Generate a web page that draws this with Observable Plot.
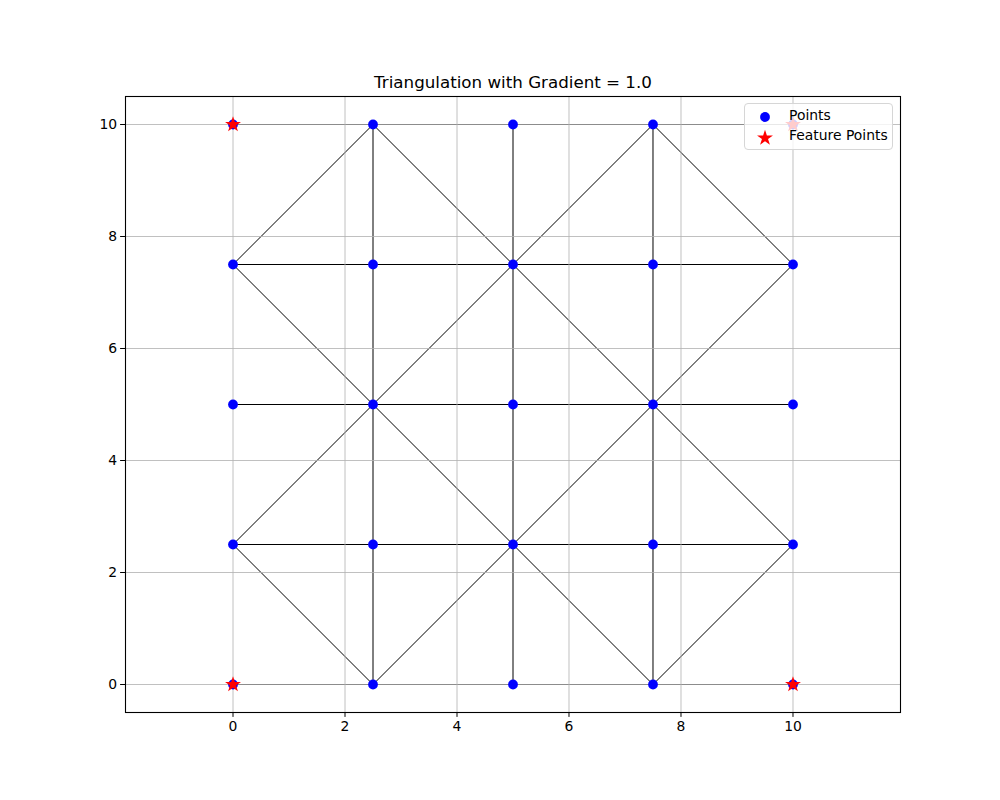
<!DOCTYPE html>
<html>
<head>
<meta charset="utf-8">
<script src="https://cdn.jsdelivr.net/npm/d3@7"></script>
<script src="https://cdn.jsdelivr.net/npm/@observablehq/plot@0.6"></script>
<style>
  html, body { margin: 0; padding: 0; background: #fff; overflow: hidden; }
  #fig { position: relative; width: 1000px; height: 800px; font-family: "DejaVu Sans", sans-serif; }
  #legend { position: absolute; left: 744px; top: 103px; width: 149px; height: 47px; box-sizing: border-box;
            border: 1px solid #d6d6d6; border-radius: 4px; background: rgba(255,255,255,0.8);
            font-family: "DejaVu Sans", sans-serif; font-size: 13.9px; color: #000; }
  .lrow { position: absolute; left: 0; height: 20px; }
  .lrow svg { position: absolute; left: 8px; top: 0; }
  .lrow span { position: absolute; left: 44px; white-space: nowrap; line-height: 20px; top: 0; }
</style>
</head>
<body>
<div id="fig"></div>
<script>
// ---- data ----
const title = "Triangulation with Gradient = 1.0";
const xTicks = [0, 2, 4, 6, 8, 10];
const yTicks = [0, 2, 4, 6, 8, 10];
const xDomain = [-1.92, 11.92];
const yDomain = [-0.5, 10.5];

const pointsX = [0, 2.5, 5, 7.5, 10, 0, 2.5, 5, 7.5, 10, 0, 2.5, 5, 7.5, 10, 0, 2.5, 5, 7.5, 10, 0, 2.5, 5, 7.5, 10];
const pointsY = [0, 0, 0, 0, 0, 2.5, 2.5, 2.5, 2.5, 2.5, 5, 5, 5, 5, 5, 7.5, 7.5, 7.5, 7.5, 7.5, 10, 10, 10, 10, 10];

const featureX = [0, 10, 0, 10];
const featureY = [0, 0, 10, 10];

// triangulation edges: [x1, y1, x2, y2]
const edges = [
  // horizontal
  [0,0,2.5,0],[2.5,0,5,0],[5,0,7.5,0],[7.5,0,10,0],
  [0,2.5,2.5,2.5],[2.5,2.5,5,2.5],[5,2.5,7.5,2.5],[7.5,2.5,10,2.5],
  [0,5,2.5,5],[2.5,5,5,5],[5,5,7.5,5],[7.5,5,10,5],
  [0,7.5,2.5,7.5],[2.5,7.5,5,7.5],[5,7.5,7.5,7.5],[7.5,7.5,10,7.5],
  [0,10,2.5,10],[2.5,10,5,10],[5,10,7.5,10],[7.5,10,10,10],
  // vertical
  [2.5,0,2.5,2.5],[2.5,2.5,2.5,5],[2.5,5,2.5,7.5],[2.5,7.5,2.5,10],
  [5,0,5,2.5],[5,2.5,5,5],[5,5,5,7.5],[5,7.5,5,10],
  [7.5,0,7.5,2.5],[7.5,2.5,7.5,5],[7.5,5,7.5,7.5],[7.5,7.5,7.5,10],
  // diagonals
  [0,7.5,2.5,5],[2.5,5,5,2.5],[5,2.5,7.5,0],
  [2.5,10,5,7.5],[5,7.5,7.5,5],[7.5,5,10,2.5],
  [0,2.5,2.5,5],[2.5,5,5,7.5],[5,7.5,7.5,10],
  [2.5,0,5,2.5],[5,2.5,7.5,5],[7.5,5,10,7.5],
  [0,7.5,2.5,10],[7.5,10,10,7.5],[0,2.5,2.5,0],[7.5,0,10,2.5]
];

const legendItems = ["Points", "Feature Points"];

// ---- build tables ----
const points = pointsX.map((x, i) => ({x, y: pointsY[i]}));
const features = featureX.map((x, i) => ({x, y: featureY[i]}));
const edgeRows = edges.map(([x1, y1, x2, y2]) => ({x1, y1, x2, y2}));

const starR = 5.0;

const chart = Plot.plot({
  width: 1000,
  height: 800,
  marginLeft: 125,
  marginRight: 100,
  marginTop: 96,
  marginBottom: 88,
  style: {fontFamily: "DejaVu Sans, sans-serif", fontSize: "13.9px", color: "#000", background: "#fff"},
  x: {domain: xDomain},
  y: {domain: yDomain},
  marks: [
    Plot.link(edgeRows, {x1: "x1", y1: "y1", x2: "x2", y2: "y2", stroke: "#000", strokeWidth: 1.0}),
    Plot.ruleX(xTicks, {stroke: "#b0b0b0", strokeWidth: 0.8}),
    Plot.ruleY(yTicks, {stroke: "#b0b0b0", strokeWidth: 0.8}),
    Plot.dot(points, {x: "x", y: "y", r: 4.9, fill: "#0000ff", stroke: "none"}),
    Plot.dot(features, {x: "x", y: "y", r: starR, symbol: "star", fill: "#ff0000", stroke: "none"}),
    Plot.frame({stroke: "#000", strokeWidth: 1.1}),
    Plot.axisX({ticks: xTicks, tickSize: 4.9, tickPadding: 3.5, tickFormat: d => String(d), label: null, fontSize: 13.9}),
    Plot.axisY({ticks: yTicks, tickSize: 4.9, tickPadding: 3.5, tickFormat: d => String(d), label: null, fontSize: 13.9}),
    Plot.text([title], {text: d => d, frameAnchor: "top", dy: -9, lineAnchor: "bottom", fontSize: 16.7, fill: "#000"})
  ]
});

const fig = document.getElementById("fig");
fig.appendChild(chart);

// ---- legend ----
const legend = document.createElement("div");
legend.id = "legend";
const symbols = [
  {path: d3.symbol(d3.symbolCircle, Math.PI * 4.9 * 4.9)(), fill: "#0000ff"},
  {path: d3.symbol(d3.symbolStar, Math.PI * starR * starR)(), fill: "#ff0000"}
];
legendItems.forEach((label, i) => {
  const row = document.createElement("div");
  row.className = "lrow";
  row.style.top = (1 + i * 20) + "px";
  row.innerHTML = `<svg width="24" height="20"><path transform="translate(12,${i === 0 ? 12 : 13})" d="${symbols[i].path}" fill="${symbols[i].fill}"></path></svg><span>${label}</span>`;
  legend.appendChild(row);
});
fig.appendChild(legend);
</script>
</body>
</html>
